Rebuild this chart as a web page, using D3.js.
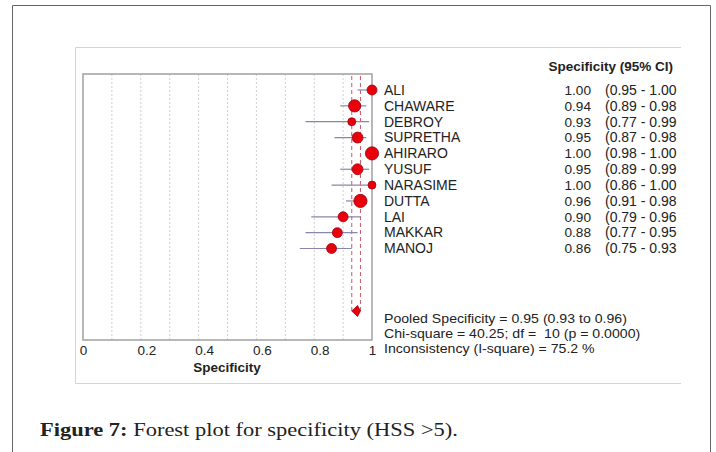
<!DOCTYPE html>
<html>
<head>
<meta charset="utf-8">
<script src="https://cdn.jsdelivr.net/npm/d3@7"></script>
<style>
	body { margin: 0; background: #fff; }
	text { font-family: "Liberation Sans", Arial, sans-serif; white-space: pre; }
</style>
</head>
<body>
<script>
var studies = ["ALI", "CHAWARE", "DEBROY", "SUPRETHA", "AHIRARO", "YUSUF", "NARASIME", "DUTTA", "LAI", "MAKKAR", "MANOJ"];
var spec = [1.00, 0.94, 0.93, 0.95, 1.00, 0.95, 1.00, 0.96, 0.90, 0.88, 0.86];
var ciLow = [0.95, 0.89, 0.77, 0.87, 0.98, 0.89, 0.86, 0.91, 0.79, 0.77, 0.75];
var ciHigh = [1.00, 0.98, 0.99, 0.98, 1.00, 0.99, 1.00, 0.98, 0.96, 0.95, 0.93];
var weights = [25, 38, 16, 30, 44, 30, 16, 44, 25, 25, 25];
var pooled = [0.95, 0.93, 0.96];
var xTicks = [0, 0.2, 0.4, 0.6, 0.8, 1];
var gridTicks = [0.1, 0.2, 0.3, 0.4, 0.5, 0.6, 0.7, 0.8, 0.9];
var footLines = [
	"Pooled Specificity = 0.95 (0.93 to 0.96)",
	"Chi-square = 40.25; df =  10 (p = 0.0000)",
	"Inconsistency (I-square) = 75.2 %"
];

var svg = d3.select("body").append("svg")
	.attr("width", 716)
	.attr("height", 452);

// page frame
svg.append("path")
	.attr("d", "M12.5,452 V5.5 H710.5 V452")
	.attr("fill", "none")
	.attr("stroke", "#666")
	.attr("stroke-width", 1);

// image frame
svg.append("path")
	.attr("d", "M681,47.5 H75.5 V383.5 H681")
	.attr("fill", "none")
	.attr("stroke", "#d4d4d4")
	.attr("stroke-width", 1);

var box = { left: 83, right: 372, top: 74, bottom: 340 };

var x = d3.scaleLinear().domain([0, 1]).range([box.left, box.right]);
var y = d3.scalePoint().domain(studies).range([90, 248.5]);
var r = d3.scaleSqrt().domain([0, 44]).range([0, 6.6]);

// gridlines
svg.selectAll("line.grid")
	.data(gridTicks)
	.enter()
	.append("line")
	.attr("class", "grid")
	.attr("x1", function(d) { return x(d); })
	.attr("x2", function(d) { return x(d); })
	.attr("y1", box.top)
	.attr("y2", box.bottom)
	.attr("stroke", "#d0d0d0")
	.attr("stroke-dasharray", "2,2");

// plot box
svg.append("rect")
	.attr("x", box.left)
	.attr("y", box.top)
	.attr("width", box.right - box.left)
	.attr("height", box.bottom - box.top)
	.attr("fill", "none")
	.attr("stroke", "#a0a0a0")
	.attr("stroke-width", 1.5);

// pooled CI dashed lines
svg.selectAll("line.pool")
	.data([pooled[1], pooled[2]])
	.enter()
	.append("line")
	.attr("x1", function(d) { return x(d); })
	.attr("x2", function(d) { return x(d); })
	.attr("y1", box.top + 2)
	.attr("y2", 311)
	.attr("stroke", "#c85a66")
	.attr("stroke-width", 1)
	.attr("stroke-dasharray", "4,3");

var rows = studies.map(function(s, i) {
	return { name: s, v: spec[i], lo: ciLow[i], hi: ciHigh[i], w: weights[i] };
});

// CI lines
svg.selectAll("line.ci")
	.data(rows)
	.enter()
	.append("line")
	.attr("x1", function(d) { return x(d.lo); })
	.attr("x2", function(d) { return x(d.hi); })
	.attr("y1", function(d) { return y(d.name); })
	.attr("y2", function(d) { return y(d.name); })
	.attr("stroke", "#8a86ab")
	.attr("stroke-width", 1.2);

// points
svg.selectAll("circle.pt")
	.data(rows)
	.enter()
	.append("circle")
	.attr("cx", function(d) { return x(d.v); })
	.attr("cy", function(d) { return y(d.name); })
	.attr("r", function(d) { return r(d.w); })
	.attr("fill", "#e8000b")
	.attr("stroke", "#a00010")
	.attr("stroke-width", 0.8);

// pooled diamond
var dy = 311;
svg.append("path")
	.attr("d", "M" + x(pooled[1]) + "," + dy + " L" + x(pooled[0]) + "," + (dy - 5.5) +
		" L" + x(pooled[2]) + "," + dy + " L" + x(pooled[0]) + "," + (dy + 5.5) + "Z")
	.attr("fill", "#e8000b")
	.attr("stroke", "#a00010")
	.attr("stroke-width", 0.8);

// x axis labels
var axis = d3.axisBottom(x)
	.tickValues(xTicks)
	.tickSize(0)
	.tickPadding(5.4)
	.tickFormat(function(d) { return d === 0 || d === 1 ? d3.format("d")(d) : d3.format(".1f")(d); });

var ax = svg.append("g")
	.attr("transform", "translate(0," + box.bottom + ")")
	.call(axis);
ax.select(".domain").remove();
ax.selectAll("text")
	.attr("font-size", 13.5)
	.attr("fill", "#222")
	.style("font-family", "'Liberation Sans', Arial, sans-serif")
	.attr("dx", function(d) { return d === 0 || d === 1 ? 0 : 5.5; });

svg.append("text")
	.attr("x", 227)
	.attr("y", 371.5)
	.attr("text-anchor", "middle")
	.attr("font-size", 13.5)
	.attr("font-weight", "bold")
	.attr("fill", "#222")
	.text("Specificity");

// right-side table
svg.append("text")
	.attr("x", 673)
	.attr("y", 70.5)
	.attr("text-anchor", "end")
	.attr("font-size", 13.5)
	.attr("font-weight", "bold")
	.attr("fill", "#222")
	.text("Specificity (95% CI)");

var tbl = svg.selectAll("g.row")
	.data(rows)
	.enter()
	.append("g")
	.attr("transform", function(d) { return "translate(0," + (y(d.name) + 4.8) + ")"; });

tbl.append("text")
	.attr("x", 384)
	.attr("font-size", 14)
	.attr("fill", "#222")
	.text(function(d) { return d.name; });

tbl.append("text")
	.attr("x", 591)
	.attr("text-anchor", "end")
	.attr("font-size", 13.6)
	.attr("fill", "#222")
	.text(function(d) { return d3.format(".2f")(d.v); });

tbl.append("text")
	.attr("x", 605)
	.attr("font-size", 14)
	.attr("fill", "#222")
	.text(function(d) { return "(" + d3.format(".2f")(d.lo) + " - " + d3.format(".2f")(d.hi); });

// summary lines, stretched to the width seen in the reference
var foot = svg.selectAll("text.foot")
	.data(footLines)
	.enter()
	.append("text")
	.attr("class", "foot")
	.attr("font-size", 12.5)
	.attr("fill", "#222")
	.text(function(d) { return d; });
var footScale = 243 / foot.node().getComputedTextLength();
foot.attr("transform", function(d, i) {
	return "translate(384," + (323.3 + i * 14.6) + ") scale(" + footScale + ",1)";
});

// caption
var capX = 40, capW = 418;
var cap = svg.append("text")
	.attr("y", 436)
	.attr("font-size", 18.5)
	.attr("fill", "#222")
	.style("font-family", "'Liberation Serif', 'Times New Roman', serif");
cap.append("tspan").attr("font-weight", "bold").text("Figure 7:");
cap.append("tspan").text(" Forest plot for specificity (HSS >5).");
var capLen = cap.node().getComputedTextLength();
cap.attr("transform", "translate(" + capX + ",0) scale(" + (capW / capLen) + ",1)");
</script>
</body>
</html>
